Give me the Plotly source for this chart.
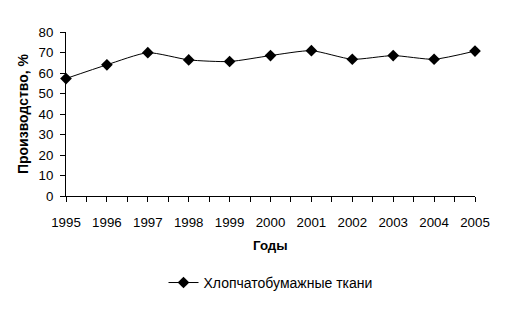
import plotly.graph_objects as go

years = [1995, 1996, 1997, 1998, 1999, 2000, 2001, 2002, 2003, 2004, 2005]
values = [57.3, 64.0, 69.9, 66.4, 65.6, 68.5, 70.9, 66.7, 68.5, 66.7, 70.7]
series_name = "Хлопчатобумажные ткани"
x_title = "Годы"
y_title = "Производство, %"

FONT = "Liberation Sans, Arial, sans-serif"
FS = 13.3

fig = go.Figure()
fig.add_trace(go.Scatter(
    x=years, y=values, name=series_name,
    mode="lines+markers",
    line=dict(color="black", width=1, shape="spline", smoothing=0.6),
    marker=dict(symbol="diamond", size=9, color="black"),
    cliponaxis=False,
))

fig.update_layout(
    width=514, height=311,
    margin=dict(l=66, r=39, t=32, b=110),
    paper_bgcolor="white", plot_bgcolor="white",
    font=dict(family=FONT, size=FS, color="black"),
    showlegend=True,
    legend=dict(orientation="h", x=0.5, xanchor="center", y=-0.53, yanchor="middle",
                font=dict(size=FS + 0.7, family=FONT)),
    xaxis=dict(range=[1995, 2005], dtick=1, tick0=1995, showgrid=False, zeroline=False,
               showline=True, linecolor="black", linewidth=1,
               ticks="outside", ticklen=5, tickcolor="black",
               minor=dict(dtick=0.5, tick0=1995, ticks="outside", ticklen=5, tickcolor="black", showgrid=False),
               tickfont=dict(size=FS), ticklabelstandoff=9),
    yaxis=dict(range=[0, 80], dtick=10, showgrid=False, zeroline=False,
               showline=True, linecolor="black", linewidth=1,
               ticks="outside", ticklen=5, tickcolor="black",
               tickfont=dict(size=FS), ticklabelstandoff=4),
    annotations=[
        dict(text="<b>" + x_title + "</b>", xref="paper", yref="paper", x=0.5, y=-0.3,
             xanchor="center", yanchor="middle", showarrow=False, font=dict(size=FS, family=FONT)),
        dict(text="<b>" + y_title + "</b>", xref="paper", yref="paper", x=-0.105, y=0.5,
             xanchor="center", yanchor="middle", textangle=-90, showarrow=False,
             font=dict(size=FS + 0.7, family=FONT)),
    ],
)

fig.write_html("out.html")
